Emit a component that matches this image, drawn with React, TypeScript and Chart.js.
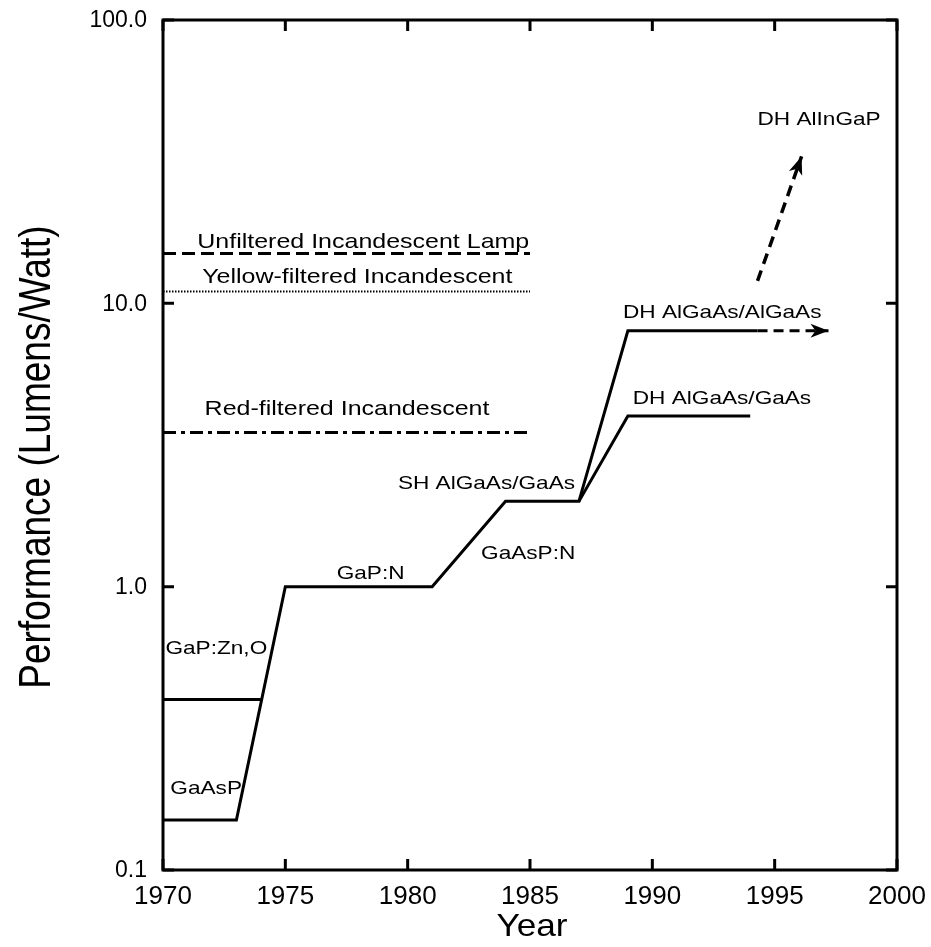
import React, { useEffect, useRef } from 'react';
import { Chart, registerables } from 'chart.js';

Chart.register(...registerables);

// Axis ticks
const yearTicks = [1970, 1975, 1980, 1985, 1990, 1995, 2000];
const perfTicks = [0.1, 1, 10, 100];
const perfTickLabels = ['0.1', '1.0', '10.0', '100.0'];

// LED performance history (year, lumens per watt)
const mainYears = [1970, 1973, 1975, 1981, 1984, 1987, 1989, 1994.3];
const mainPerf = [0.15, 0.15, 1.0, 1.0, 2.0, 2.0, 8.0, 8.0];
const gapZnYears = [1970, 1974.0];
const gapZnPerf = [0.4, 0.4];
const dhGaAsYears = [1987, 1989, 1994];
const dhGaAsPerf = [2.0, 4.0, 4.0];
const dhTrendYears = [1994.3, 1997.2];
const dhTrendPerf = [8.0, 8.0];
const alInGaPYears = [1994.3, 1996.1];
const alInGaPPerf = [12, 33];

// Incandescent reference levels
const lampYears = [1970, 1985];
const unfilteredPerf = [15, 15];
const yellowPerf = [11, 11];
const redPerf = [3.5, 3.5];

// Text annotations, anchored at (year, value) of their left baseline
const noteTexts = [
  'Unfiltered Incandescent Lamp',
  'Yellow-filtered Incandescent',
  'Red-filtered Incandescent',
  'GaP:Zn,O',
  'GaAsP',
  'GaP:N',
  'GaAsP:N',
  'SH AlGaAs/GaAs',
  'DH AlGaAs/AlGaAs',
  'DH AlGaAs/GaAs',
  'DH AlInGaP',
];
const noteYears = [1971.4, 1971.6, 1971.7, 1970.1, 1970.3, 1977.1, 1983.0, 1979.6, 1988.8, 1989.2, 1994.3];
const notePerf = [15.7, 11.8, 4.04, 0.578, 0.1855, 1.064, 1.253, 2.21, 8.88, 4.41, 42.6];
const noteSizes = [21, 21, 21, 19, 19, 19, 19, 19, 19, 19, 19];

const FONT = '"Liberation Sans", Arial, Helvetica, sans-serif';
const NOTE_STRETCH = 1.19;

const pts = (xs: number[], ys: number[]) => xs.map((x, i) => ({ x, y: ys[i] }));

function drawText(
  ctx: CanvasRenderingContext2D,
  text: string,
  x: number,
  y: number,
  size: number,
  align: CanvasTextAlign,
  baseline: CanvasTextBaseline,
  stretch = 1,
  rotate = false
) {
  ctx.save();
  ctx.translate(x, y);
  ctx.scale(stretch, 1);
  if (rotate) ctx.rotate(-Math.PI / 2);
  ctx.font = `${size}px ${FONT}`;
  ctx.textAlign = align;
  ctx.textBaseline = baseline;
  ctx.fillStyle = '#000';
  ctx.fillText(text, 0, 0);
  ctx.restore();
}

const framePlugin = {
  id: 'frameAndText',
  afterDatasetsDraw(chart: any) {
    const { ctx, chartArea } = chart;
    const xs = chart.scales.x;
    const ys = chart.scales.y;
    const { left, right, top, bottom } = chartArea;

    // arrowheads at the end of trend datasets
    chart.data.datasets.forEach((ds: any, i: number) => {
      if (!ds.arrow) return;
      const meta = chart.getDatasetMeta(i);
      const n = meta.data.length;
      const a = meta.data[n - 2];
      const b = meta.data[n - 1];
      const ang = Math.atan2(b.y - a.y, b.x - a.x);
      const len = 18;
      const half = 7;
      ctx.save();
      ctx.translate(b.x, b.y);
      ctx.rotate(ang);
      ctx.beginPath();
      ctx.moveTo(0, 0);
      ctx.lineTo(-len, -half);
      ctx.lineTo(-len * 0.72, 0);
      ctx.lineTo(-len, half);
      ctx.closePath();
      ctx.fillStyle = '#000';
      ctx.fill();
      ctx.restore();
    });

    // frame
    ctx.save();
    ctx.strokeStyle = '#000';
    ctx.lineWidth = 3;
    ctx.strokeRect(left, top, right - left, bottom - top);

    // inward ticks on all four sides
    const tl = 11;
    ctx.beginPath();
    yearTicks.forEach((v) => {
      const px = xs.getPixelForValue(v);
      ctx.moveTo(px, bottom);
      ctx.lineTo(px, bottom - tl);
      ctx.moveTo(px, top);
      ctx.lineTo(px, top + tl);
    });
    perfTicks.forEach((v) => {
      const py = ys.getPixelForValue(v);
      ctx.moveTo(left, py);
      ctx.lineTo(left + tl, py);
      ctx.moveTo(right, py);
      ctx.lineTo(right - tl, py);
    });
    ctx.stroke();
    ctx.restore();

    // tick labels
    yearTicks.forEach((v) => {
      drawText(ctx, String(v), xs.getPixelForValue(v), bottom + 14, 26, 'center', 'top');
    });
    perfTicks.forEach((v, i) => {
      drawText(ctx, perfTickLabels[i], left - 16, ys.getPixelForValue(v) + 1, 23, 'right', 'middle');
    });

    // axis titles
    drawText(ctx, 'Year', (left + right) / 2 + 2, bottom + 41, 32, 'center', 'top', 1.1);
    drawText(ctx, 'Performance (Lumens/Watt)', 38, (top + bottom) / 2 + 12, 37, 'center', 'middle', 1.19, true);

    // annotations
    noteTexts.forEach((t, i) => {
      drawText(
        ctx,
        t,
        xs.getPixelForValue(noteYears[i]),
        ys.getPixelForValue(notePerf[i]),
        noteSizes[i],
        'left',
        'alphabetic',
        NOTE_STRETCH
      );
    });
  },
};

export default function App() {
  const ref = useRef<HTMLCanvasElement | null>(null);

  useEffect(() => {
    document.body.style.margin = '0';
    const canvas = ref.current;
    if (!canvas) return;

    const line = (data: { x: number; y: number }[], extra: any = {}) => ({
      data,
      showLine: true,
      borderColor: '#000',
      backgroundColor: '#000',
      borderWidth: 3,
      pointRadius: 0,
      borderJoinStyle: 'miter',
      borderCapStyle: 'butt',
      tension: 0,
      ...extra,
    });

    const chart = new Chart(canvas, {
      type: 'scatter',
      data: {
        datasets: [
          line(pts(lampYears, unfilteredPerf), { borderDash: [13, 6], label: 'Unfiltered Incandescent Lamp' }),
          line(pts(lampYears, yellowPerf), { borderDash: [1.5, 1.5], borderWidth: 2, label: 'Yellow-filtered Incandescent' }),
          line(pts(lampYears, redPerf), { borderDash: [13, 5, 4, 5], label: 'Red-filtered Incandescent' }),
          line(pts(mainYears, mainPerf), { label: 'LED' }),
          line(pts(gapZnYears, gapZnPerf), { label: 'GaP:Zn,O' }),
          line(pts(dhGaAsYears, dhGaAsPerf), { label: 'DH AlGaAs/GaAs' }),
          line(pts(dhTrendYears, dhTrendPerf), { borderDash: [10, 6], arrow: true, label: 'DH AlGaAs/AlGaAs trend' }),
          line(pts(alInGaPYears, alInGaPPerf), { borderDash: [11, 7], borderWidth: 3.5, arrow: true, label: 'DH AlInGaP' }),
        ],
      },
      options: {
        responsive: false,
        animation: false,
        events: [],
        layout: { padding: { left: 163, right: 34, top: 20, bottom: 77 } },
        plugins: {
          legend: { display: false },
          tooltip: { enabled: false },
        },
        scales: {
          x: { type: 'linear', min: 1970, max: 2000, display: false },
          y: { type: 'logarithmic', min: 0.1, max: 100, display: false },
        },
      } as any,
      plugins: [framePlugin],
    });

    return () => chart.destroy();
  }, []);

  return (
    <div style={{ position: 'absolute', left: 0, top: 0, width: 931, height: 947, background: '#fff' }}>
      <canvas ref={ref} width={931} height={947} />
    </div>
  );
}
